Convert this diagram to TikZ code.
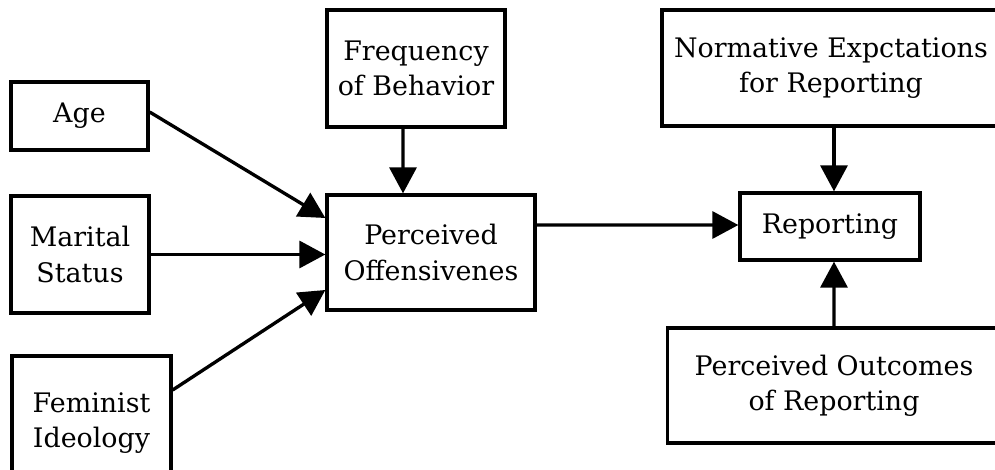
\documentclass[tikz,border=0pt]{standalone}
\usepackage{fontspec}
\setmainfont{DejaVu Serif}
\usetikzlibrary{arrows.meta}
\tikzset{var/.style={draw,rectangle,align=center,inner sep=0pt,line width=1.9pt,font=\fontsize{15.3}{20}\selectfont},
  link/.style={line width=1.9pt,-{Triangle[length=0.52cm,width=0.54cm]}}}

\begin{document}
\begin{tikzpicture}[x=0.02cm,y=-0.02cm]
   \clip (0,0) rectangle (995,470);
   % left column
   \node[var,minimum width=2.74cm,minimum height=1.36cm] (age) at (79.5,116) {Age};
   \node[var,minimum width=2.76cm,minimum height=2.34cm] (marital) at (80,254.5) {Marital\\Status};
   \node[var,minimum width=3.18cm,minimum height=2.68cm] (feminist) at (91.5,423) {Feminist\\Ideology};
   % middle
   \node[var,minimum width=3.56cm,minimum height=2.34cm] (freq) at (416,68.5) {Frequency\\of Behavior};
   \node[var,minimum width=4.16cm,minimum height=2.30cm] (offens) at (431,252.5) {Perceived\\Offensivenes};
   % right column
   \node[var,minimum width=6.76cm,minimum height=2.32cm] (norm) at (831,68) {Normative Expctations\\for Reporting};
   \node[var,minimum width=3.60cm,minimum height=1.34cm] (report) at (830,226.5) {Reporting};
   \node[var,minimum width=6.66cm,minimum height=2.30cm] (outcome) at (834,385.5) {Perceived Outcomes\\of Reporting};
   % paths
   \draw[link] ([yshift=0.08cm]age.east) -- ([yshift=0.69cm]offens.west);
   \draw[link] (marital.east) -- (marital.east -| offens.west);
   \draw[link] ([yshift=0.66cm]feminist.east) -- ([yshift=-0.75cm]offens.west);
   \draw[link] ([xshift=-0.26cm]freq.south) -- ([xshift=-0.56cm]offens.north);
   \draw[link] ([yshift=0.55cm]offens.east) -- ([yshift=0.03cm]report.west);
   \draw[link] ([xshift=0.06cm]norm.south) -- ([xshift=0.08cm]report.north);
   \draw[link] (outcome.north) -- ([xshift=0.08cm]report.south);
\end{tikzpicture}
\end{document}
